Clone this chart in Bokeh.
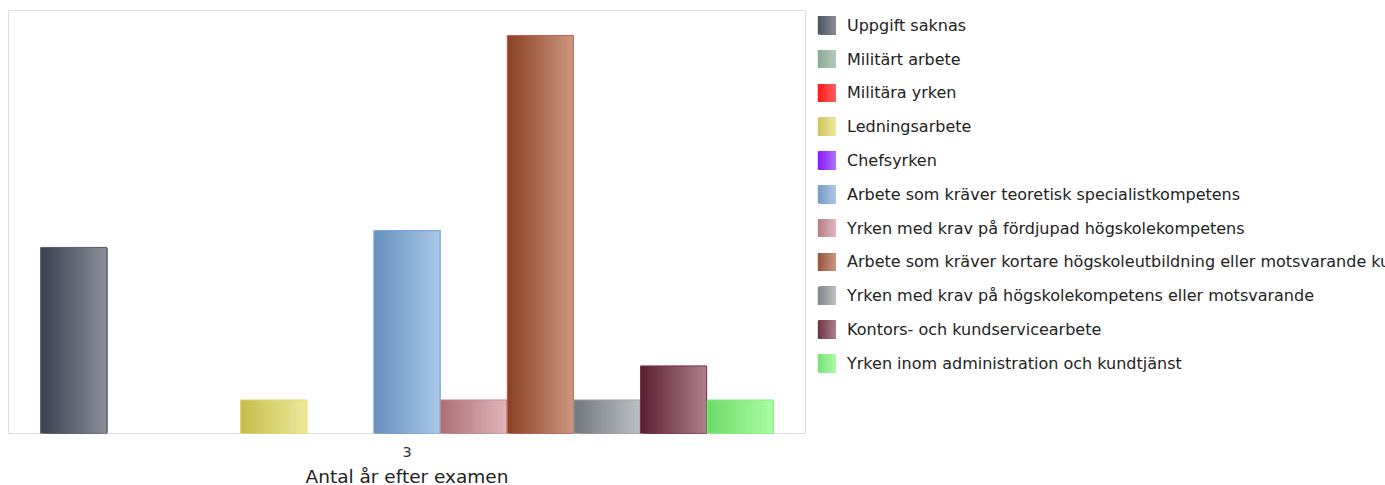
from bokeh.plotting import figure
from bokeh.models import Range1d, FixedTicker, ColumnDataSource
from bokeh.layouts import row
from bokeh.core.properties import value
from bokeh.embed import file_html
from bokeh.resources import INLINE

# ---- data ----
categories = ["3"]
series = [
    "Uppgift saknas",
    "Militärt arbete",
    "Militära yrken",
    "Ledningsarbete",
    "Chefsyrken",
    "Arbete som kräver teoretisk specialistkompetens",
    "Yrken med krav på fördjupad högskolekompetens",
    "Arbete som kräver kortare högskoleutbildning eller motsvarande kunskaper",
    "Yrken med krav på högskolekompetens eller motsvarande",
    "Kontors- och kundservicearbete",
    "Yrken inom administration och kundtjänst",
]
values = [18.86, 0, 0, 3.4, 0, 20.55, 3.4, 40.34, 3.4, 6.85, 3.4]
x_title = "Antal år efter examen"

# ---- styles ----
left_colors = ["#3a4152", "#7f9f8c", "#ff0000", "#c8bc4c", "#7a00ff", "#6890bc",
               "#ad7074", "#8a4224", "#737880", "#5c1e32", "#6edc68"]
right_colors = ["#8b8f9b", "#b3c9bb", "#ff6060", "#eee89c", "#b070ff", "#aac8e8",
                "#dfb6bc", "#cc9680", "#bcc0c4", "#ac808c", "#aafca4"]
border_colors = ["#5c6273", "#8fae9b", "#ff3030", "#e4dc6c", "#9040ff", "#78a4dc",
                 "#c88a90", "#c06a4c", "#a0a4aa", "#7c3244", "#84ee84"]

FONT = "DejaVu Sans"
N = 40
GROUP = 0.92
TOP, FH, BOT = 10, 423, 52


def hex2rgb(h):
    h = h.lstrip("#")
    return [int(h[i:i + 2], 16) for i in (0, 2, 4)]


def mix(a, b, t):
    ca, cb = hex2rgb(a), hex2rgb(b)
    return "#%02x%02x%02x" % tuple(int(round(ca[j] + (cb[j] - ca[j]) * t)) for j in range(3))


# ---------------- main chart ----------------
p = figure(width=812, height=TOP + FH + BOT, output_backend="svg", toolbar_location=None,
           x_range=Range1d(0, 1), y_range=Range1d(0, 42.87),
           frame_width=797, frame_height=FH,
           min_border_left=8, min_border_top=TOP, min_border_right=7, min_border_bottom=BOT)
p.background_fill_color = "white"
p.border_fill_color = "white"
p.outline_line_color = "#e0e0e0"
p.outline_line_width = 1
p.xgrid.visible = False
p.ygrid.visible = False
p.yaxis.visible = False

n = len(series)
w = GROUP / n
for i, v in enumerate(values):
    x0 = 0.5 - GROUP / 2 + i * w
    src = ColumnDataSource(dict(
        left=[x0 + w * k / N for k in range(N)],
        right=[x0 + w] * N,
        top=[v] * N,
        bottom=[0] * N,
        color=[mix(left_colors[i], right_colors[i], k / (N - 1)) for k in range(N)],
    ))
    p.quad(left="left", right="right", top="top", bottom="bottom", source=src,
           fill_color="color", line_color=None)
    if v > 0:
        p.quad(left=[x0 + 0.0004], right=[x0 + w - 0.0004], top=[v], bottom=[0],
               fill_color=None, line_color=border_colors[i], line_width=1)

ax = p.xaxis[0]
ax.ticker = FixedTicker(ticks=[0.5])
ax.major_label_overrides = {0.5: categories[0]}
ax.axis_line_color = None
ax.major_tick_line_color = None
ax.minor_tick_line_color = None
ax.major_tick_out = 0
ax.major_label_standoff = 13
ax.major_label_text_font = FONT
ax.major_label_text_font_size = "14.5px"
ax.major_label_text_color = "#333333"
ax.axis_label = x_title
ax.axis_label_text_font = FONT
ax.axis_label_text_font_size = "18.5px"
ax.axis_label_text_font_style = "normal"
ax.axis_label_text_color = "#222222"
ax.axis_label_standoff = 6

# ---------------- legend panel (coordinates in page pixels) ----------------
LX0, LW = 812, 573
lg = figure(width=LW, height=TOP + FH + BOT, output_backend="svg", toolbar_location=None,
            x_range=Range1d(LX0, LX0 + LW), y_range=Range1d(TOP + FH, TOP),
            frame_width=LW, frame_height=FH,
            min_border_left=0, min_border_right=0, min_border_top=TOP, min_border_bottom=BOT)
lg.axis.visible = False
lg.xgrid.visible = False
lg.ygrid.visible = False
lg.outline_line_color = None
lg.background_fill_color = "white"
lg.border_fill_color = "white"

ROW0, ROWSTEP, SW, SX, TX = 24.8, 33.8, 18, 817.3, 846.5
centers = [ROW0 + ROWSTEP * k for k in range(n)]
for i in range(n):
    cy = centers[i]
    src = ColumnDataSource(dict(
        left=[SX + SW * k / N for k in range(N)],
        right=[SX + SW] * N,
        top=[cy - SW / 2] * N,
        bottom=[cy + SW / 2] * N,
        color=[mix(mix(left_colors[i], "#ffffff", 0.1), right_colors[i], k / (N - 1)) for k in range(N)],
    ))
    lg.quad(left="left", right="right", top="top", bottom="bottom", source=src,
            fill_color="color", line_color=None)

lg.text(x=[TX] * n, y=centers, text=series, text_baseline="middle", text_align="left",
        text_font=value(FONT), text_font_size="16px", text_color="#222222")

layout = row(p, lg, spacing=0)
open("out.html", "w").write(file_html(layout, INLINE))
